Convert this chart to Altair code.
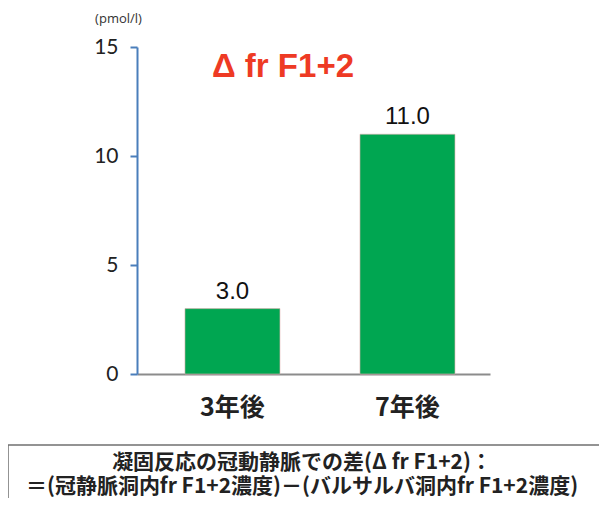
import altair as alt
import pandas as pd

categories = ["3年後", "7年後"]
values = [3.0, 11.0]
value_labels = ["3.0", "11.0"]
y_ticks = [0, 5, 10, 15]
unit_label = "(pmol/l)"
title_text = "Δ fr F1+2"
note_lines = [
    "凝固反応の冠動静脈での差(Δ fr F1+2)：",
    "＝(冠静脈洞内fr F1+2濃度)－(バルサルバ洞内fr F1+2濃度)",
]

df = pd.DataFrame({"cat": categories, "val": values, "lab": value_labels})

W, H = 353, 327

xscale = alt.Scale(domain=categories, paddingInner=0.4571, paddingOuter=0.2371, align=0.578)
yscale = alt.Scale(domain=[0, 15], nice=False)

base = alt.Chart(df)

bars = base.mark_bar(color="#00A651", stroke="#E0B0B0", strokeWidth=0.6).encode(
    x=alt.X("cat:N", scale=xscale, sort=categories,
            axis=alt.Axis(title=None, labelAngle=0, labelFont="Noto Sans CJK JP",
                          labelFontSize=25, labelFontWeight="bold", labelColor="#222222",
                          ticks=False, domainColor="#8C8C8C", domainWidth=2,
                          labelPadding=21)),
    y=alt.Y("val:Q", scale=yscale,
            axis=alt.Axis(values=y_ticks, format="d", grid=False,
                          labelFont="Lato", labelFontSize=21, labelColor="#222222",
                          tickColor="#4A7EBB", domainColor="#4A7EBB", tickSize=7,
                          tickWidth=2, domainWidth=2, labelPadding=12,
                          title=unit_label, titleAngle=0, titleX=-19, titleY=-29,
                          titleAlign="center", titleBaseline="middle",
                          titleFontSize=13, titleFontWeight="normal",
                          titleFont="Open Sans", titleColor="#333333")),
)

labels = base.mark_text(font="Liberation Sans", fontSize=24, color="#111111",
                        baseline="alphabetic", dy=-10).encode(
    x=alt.X("cat:N", scale=xscale, sort=categories),
    y=alt.Y("val:Q", scale=yscale),
    text="lab:N",
)

title_df = pd.DataFrame({"t": [title_text]})
title = alt.Chart(title_df).mark_text(font="Liberation Sans", fontSize=33, fontWeight="bold",
                                      color="#EE3A24", align="center", baseline="middle").encode(
    x=alt.value(146), y=alt.value(20), text="t:N")

box = alt.Chart(title_df).mark_rect(fill="white", stroke="#707070", strokeWidth=1.5).encode(
    x=alt.value(-129), x2=alt.value(480), y=alt.value(398), y2=alt.value(470))

note1 = alt.Chart(pd.DataFrame({"t": [note_lines[0]]})).mark_text(
    font="Noto Sans CJK JP", fontSize=21, fontWeight="bold", color="#222222",
    align="center", baseline="middle").encode(x=alt.value(165), y=alt.value(416), text="t:N")
note2 = alt.Chart(pd.DataFrame({"t": [note_lines[1]]})).mark_text(
    font="Noto Sans CJK JP", fontSize=21, fontWeight="bold", color="#222222",
    align="center", baseline="middle").encode(x=alt.value(165), y=alt.value(440), text="t:N")

chart = alt.layer(bars, labels, title, box, note1, note2).properties(
    width=W, height=H,
    autosize=alt.AutoSizeParams(type="none"),
    padding={"left": 129, "top": 39, "right": 109, "bottom": 124},
    background="white",
).configure_view(stroke=None)

chart.save("out.html", embed_options={"renderer": "svg", "actions": False})
